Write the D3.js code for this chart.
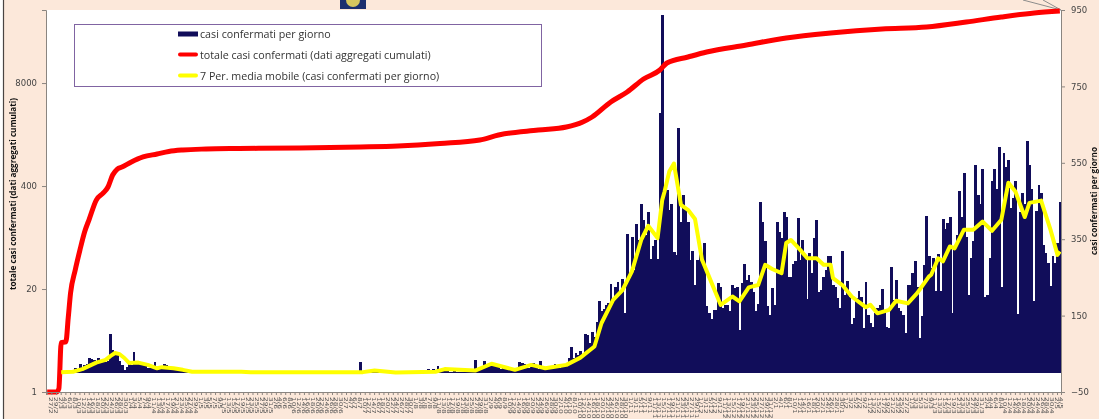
<!DOCTYPE html>
<html>
<head>
<meta charset="utf-8">
<title>casi confermati</title>
<script src="https://cdn.jsdelivr.net/npm/d3@7"></script>
<style>
  html, body { margin: 0; padding: 0; background: #fff; overflow: hidden; }
  svg { display: block; filter: blur(0.35px); }
  text { font-family: "DejaVu Sans", sans-serif; }
  .legend-text { font-family: "Open Sans", sans-serif; font-size: 10.7px; fill: #333; }
  .axis-title { font-family: "Open Sans", sans-serif; font-size: 9px; font-weight: 700; fill: #111; }
</style>
</head>
<body>
<div id="chart"></div>
<script>
// Data
var first_day   = new Date( 2020, 1, 27 );
var last_day    = new Date( 2021, 4, 5 );

// casi confermati per giorno, one value per day from 27/2/2020
var daily_cases = [
  0,0,0,1,1,2,2,3,3,4,
  4,5,13,8,23,15,20,22,39,36,
  33,30,38,28,30,28,32,102,60,55,
  50,32,20,8,16,22,20,55,22,22,
  20,20,18,14,12,12,29,16,15,12,
  22,20,16,14,14,10,10,8,8,6,
  5,4,4,3,2,2,2,1,1,2,
  1,1,2,1,1,1,0,1,1,1,
  1,0,1,1,0,1,1,0,1,0,
  1,1,0,1,0,1,1,0,0,1,
  0,1,1,0,1,0,0,1,1,0,
  1,0,1,1,0,1,0,1,0,1,
  1,0,1,1,2,1,1,0,2,1,
  1,2,1,2,28,4,3,5,4,3,
  2,2,1,2,1,2,1,1,2,1,
  1,2,1,2,1,3,2,2,3,2,
  3,2,4,10,6,10,8,19,6,5,
  4,4,3,3,4,3,2,2,3,4,
  4,3,6,34,12,14,15,30,16,17,
  20,22,18,17,10,14,10,12,11,9,
  10,12,28,25,24,17,14,22,25,15,
  10,30,14,10,12,12,10,24,13,14,
  17,17,20,38,67,38,51,47,58,47,
  102,98,78,108,95,134,187,161,167,178,
  182,233,196,224,239,209,245,156,364,261,
  357,270,390,348,443,400,361,422,299,331,
  348,299,680,937,488,479,427,442,317,309,
  641,396,466,431,396,296,319,230,296,331,
  305,340,174,156,140,165,165,235,226,169,
  178,178,161,229,222,224,113,235,285,244,
  257,239,213,163,180,447,396,344,174,152,
  223,178,396,370,353,420,409,250,250,285,
  292,405,296,348,305,193,313,261,353,401,
  213,217,250,270,305,305,230,226,197,169,
  320,204,241,200,127,143,196,215,200,117,
  237,152,130,121,156,169,178,219,161,120,
  117,277,191,242,169,161,152,104,230,230,
  261,293,226,91,149,283,412,306,274,300,
  215,312,215,402,376,392,409,156,326,361,
  475,407,524,356,204,300,344,543,466,443,
  534,200,205,300,503,534,481,592,226,576,
  539,558,431,457,503,154,420,470,443,608,
  544,481,187,425,492,470,335,313,288,228,
  305,287,340,447
];

// totale casi confermati, read at the bends of the red line
var total_days  = [ 0,4,5,6,8,9,10,12,14,16,18,21,24,26,28,30,32,36,41,47,52,58,68,82,108,134,150,168,185,193,210,222,229,233,241,248,255,262,265,274,282,299,316,335,357,376,393,408,422,433 ];
var total_cases = [ 1,1,1.1,4.2,4.3,8.6,17.8,34.8,62,105,153,266,327,389,551,656,696,805,931,1016,1093,1142,1175,1192,1210,1246,1282,1379,1527,1765,2040,2226,2573,2981,4614,6170,9000,11700,14340,17070,19740,24200,29700,34320,38570,40870,47260,54700,61400,65100 ];

// 7 Per. media mobile, read at the bends of the yellow line
var mean_days   = [ 6,11,15,21,25,27,29,31,33,35,39,43,47,49,54,58,62,83,87,111,135,140,149,166,170,183,190,200,207,213,219,222,228,234,237,242,246,250,254,257,261,263,264,266,268,271,274,277,280,283,288,293,296,300,304,307,310,314,316,318,322,325,329,332,335,336,340,344,350,352,355,360,363,368,372,377,378,381,383,386,388,392,396,400,404,408,411,414,418,420,425,429,432,433 ];
var mean_cases  = [ 2,3,10,27,34,44,52,49,39,26,27,21,12,15,12,8,3,3,2,2,2,6,1,3,10,6,24,8,21,12,18,21,40,69,130,191,217,265,348,385,353,453,475,527,548,440,427,403,296,252,178,200,187,224,230,283,272,261,340,348,322,300,300,283,283,248,230,200,172,178,156,165,189,182,209,252,257,300,292,331,326,375,375,396,372,401,498,475,408,445,451,375,309,318 ];

var left_ticks  = [ 1, 20, 400, 8000 ];
var right_ticks = [ -50, 150, 350, 550, 750, 950 ];

var legend_labels = [
  "casi confermati per giorno",
  "totale casi confermati (dati aggregati cumulati)",
  "7 Per. media mobile (casi confermati per giorno)"
];

// Sizes
var chart_width  = 1099;
var chart_height = 419;
var plot_left    = 46;
var plot_right   = 1061;
var plot_top     = 10;
var plot_bottom  = 392;
var navy         = "#110d5a";
var axis_gray    = "#8a8580";

// Scales
var days = d3.timeDay.range( first_day, d3.timeDay.offset( last_day, 1 ) );

var x_scale = d3.scaleBand()
    .domain( days )
    .range([ plot_left, plot_right ])
    .padding( 0 );

var y_total = d3.scaleLog()
    .domain([ 1, 67000 ])
    .range([ plot_bottom, plot_top ]);

var y_daily = d3.scaleLinear()
    .domain([ -50, 950 ])
    .range([ plot_bottom, plot_top ]);

// Create SVG
var svg = d3.select("#chart")
    .append("svg")
    .attr("width", chart_width)
    .attr("height", chart_height);

svg.append("rect")
    .attr("x", 3).attr("y", 0)
    .attr("width", chart_width).attr("height", chart_height)
    .attr("fill", "#fce8da");

svg.append("line")
    .attr("x1", 3.5).attr("x2", 3.5)
    .attr("y1", 0).attr("y2", chart_height)
    .attr("stroke", "#4a4442")
    .attr("stroke-width", 1.2);

svg.append("rect")
    .attr("x", plot_left).attr("y", plot_top)
    .attr("width", plot_right - plot_left).attr("height", plot_bottom - plot_top)
    .attr("fill", "#fff");

// Logo stub at the top edge
svg.append("rect")
    .attr("x", 340).attr("y", 0)
    .attr("width", 26).attr("height", 9)
    .attr("fill", "#1c2f6e");
svg.append("circle")
    .attr("cx", 353).attr("cy", 0).attr("r", 7)
    .attr("fill", "#d8c75e");

// Callout lines of the cut off note
svg.selectAll("line.callout")
    .data([ 1023, 1043 ])
    .enter()
    .append("line")
    .attr("class", "callout")
    .attr("x1", d => d).attr("y1", 0)
    .attr("x2", plot_right).attr("y2", plot_top)
    .attr("stroke", "#8c8c8c");

// Bars
svg.selectAll("rect.bar")
    .data( daily_cases )
    .enter()
    .append("rect")
    .attr("class", "bar")
    .attr("x", (d, i) => x_scale( days[i] ))
    .attr("width", x_scale.bandwidth() + 0.5)
    .attr("y", d => y_daily( d ))
    .attr("height", d => y_daily( 0 ) - y_daily( d ))
    .attr("shape-rendering", "crispEdges")
    .attr("fill", navy);

// Lines
var day_center = i => x_scale( days[i] ) + x_scale.bandwidth() / 2;

var total_line = d3.line()
    .curve( d3.curveMonotoneX )
    .x( d => day_center( d[0] ) )
    .y( d => y_total( d[1] ) );

var mean_line = d3.line()
    .x( d => day_center( d[0] ) )
    .y( d => y_daily( d[1] ) );

svg.append("path")
    .attr("d", total_line( d3.zip( total_days, total_cases ) ))
    .attr("fill", "none")
    .attr("stroke", "#ff0000")
    .attr("stroke-width", 5)
    .attr("stroke-linejoin", "round");

svg.append("path")
    .attr("d", mean_line( d3.zip( mean_days, mean_cases ) ))
    .attr("fill", "none")
    .attr("stroke", "#ffff00")
    .attr("stroke-width", 4)
    .attr("stroke-linejoin", "round");

// Axes
var left_axis = svg.append("g")
    .attr("transform", "translate(" + plot_left + ",0)")
    .call( d3.axisLeft( y_total ).tickValues( left_ticks ).tickFormat( d3.format("d") ).tickSize( 4 ).tickPadding( 5 ) );

var right_axis = svg.append("g")
    .attr("transform", "translate(" + plot_right + ",0)")
    .call( d3.axisRight( y_daily ).tickValues( right_ticks ).tickSize( 4 ).tickPadding( 6 ) );

var bottom_axis = svg.append("g")
    .attr("transform", "translate(0," + plot_bottom + ")")
    .call( d3.axisBottom( x_scale )
        .tickValues( days.filter( (d, i) => i % 2 === 0 ) )
        .tickFormat( d3.timeFormat("%-d/%-m") )
        .tickSize( 3 )
        .tickPadding( 3 ) );

[ left_axis, right_axis, bottom_axis ].forEach( function(axis){
    axis.selectAll("path, line").attr("stroke", axis_gray);
    axis.selectAll("text").attr("fill", "#444").style("font-size", "8.5px");
});

bottom_axis.selectAll("text")
    .attr("text-anchor", "start")
    .attr("y", 0)
    .attr("dy", 0)
    .attr("fill", "#555")
    .style("font-size", "7.5px")
    .attr("transform", "translate(2,5) rotate(90) scale(1,0.72)");

// Axis titles
svg.append("text")
    .attr("class", "axis-title")
    .attr("transform", "translate(16,194) rotate(-90)")
    .attr("text-anchor", "middle")
    .attr("textLength", 192)
    .attr("lengthAdjust", "spacingAndGlyphs")
    .text("totale casi confermati (dati aggregati cumulati)");

svg.append("text")
    .attr("class", "axis-title")
    .attr("transform", "translate(1096.5,201) rotate(-90)")
    .attr("text-anchor", "middle")
    .attr("textLength", 108)
    .attr("lengthAdjust", "spacingAndGlyphs")
    .text("casi confermati  per giorno");

// Legend
var legend = svg.append("g");

legend.append("rect")
    .attr("x", 74.5).attr("y", 24.5)
    .attr("width", 467).attr("height", 62)
    .attr("fill", "#fff")
    .attr("stroke", "#8064a2");

var legend_rows = legend.selectAll("g")
    .data( legend_labels )
    .enter()
    .append("g")
    .attr("transform", (d, i) => "translate(0," + (34 + i * 21) + ")");

legend_rows.append("rect")
    .attr("x", 178).attr("y", -2.5)
    .attr("width", 20)
    .attr("height", (d, i) => i === 0 ? 5 : 4)
    .attr("rx", (d, i) => i === 0 ? 0 : 2)
    .attr("fill", (d, i) => [ navy, "#ff0000", "#ffff00" ][i]);

legend_rows.append("text")
    .attr("class", "legend-text")
    .attr("x", 200)
    .attr("y", 3.5)
    .text( d => d );
</script>
</body>
</html>
